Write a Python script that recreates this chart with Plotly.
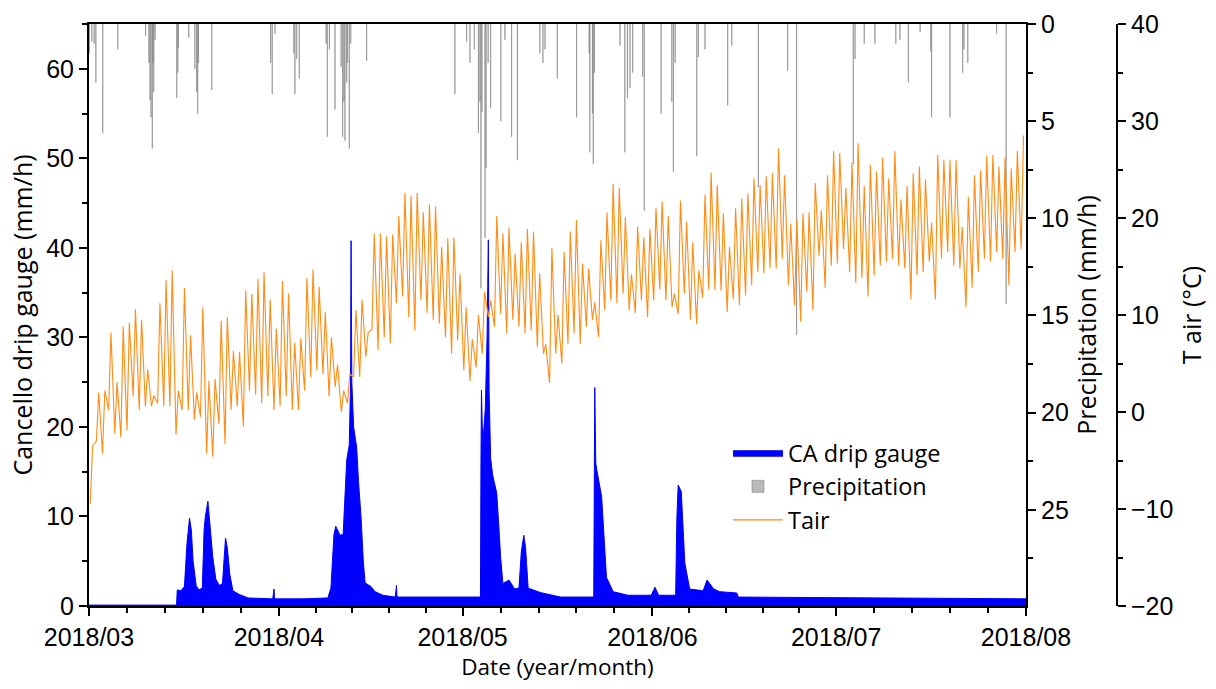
import pandas as pd
import plotly.graph_objects as go

START = pd.Timestamp("2018-03-01")
END = pd.Timestamp("2018-08-01")

# ---- Cancello drip gauge (mm/h): hours since 2018-03-01 00:00 and rate
drip_hour = [0, 343, 346, 360, 374, 384, 394, 401, 408, 420, 430, 444, 451, 456, 466, 475,
             485, 497, 511, 523, 535, 542, 552, 564, 588, 624, 720, 725, 727, 840, 936, 948,
             960, 967, 984, 996, 1003, 1010, 1020, 1025, 1027, 1030, 1037, 1049, 1056, 1066,
             1075, 1082, 1092, 1104, 1121, 1152, 1200, 1205, 1207, 1320, 1440, 1534, 1536,
             1538, 1543, 1553, 1560, 1565, 1568, 1574, 1582, 1598, 1608, 1613, 1622, 1646,
             1668, 1685, 1694, 1704, 1711, 1721, 1769, 1848, 1978, 1980, 1982, 1986, 1990,
             2009, 2018, 2028, 2054, 2112, 2203, 2218, 2232, 2299, 2304, 2309, 2321, 2328,
             2335, 2354, 2407, 2422, 2448, 2472, 2539, 2544, 2880, 3360, 3672]
drip_rate = [0.1, 0.1, 1.8, 1.7, 2.2, 7.0, 9.8, 8.5, 5.0, 2.3, 1.8, 2.0, 8.5, 10.0, 11.7, 9.0,
             5.5, 3.0, 2.3, 2.5, 7.6, 6.5, 3.5, 1.7, 1.3, 0.9, 0.8, 1.9, 0.8, 0.8, 0.9, 2.0,
             8.0, 8.9, 7.9, 8.0, 13.0, 16.3, 18.0, 25.0, 40.8, 25.0, 20.0, 17.7, 14.0, 10.0,
             5.0, 2.6, 2.4, 2.2, 1.6, 1.2, 1.0, 2.3, 1.0, 1.0, 1.0, 1.0, 16.0,
             24.1, 18.0, 22.0, 30.0, 40.9, 24.0, 16.5, 14.6, 12.6, 8.0, 5.5, 2.5, 2.9,
             1.9, 2.0, 6.0, 7.9, 6.5, 2.0, 1.5, 1.0, 1.0, 15.0, 24.4, 16.0, 15.2,
             12.2, 8.5, 3.2, 1.6, 1.2, 1.2, 2.1, 1.2, 1.2, 10.0, 13.5, 12.8, 8.0,
             4.8, 1.9, 1.7, 2.9, 1.9, 1.6, 1.45, 1.0, 0.95, 0.9, 0.8]

# ---- Precipitation (mm/h): hours since 2018-03-01 00:00 and hourly total
precip_hour = [1, 11, 20, 27, 54, 113, 222, 235, 239, 243, 248, 251, 254, 259, 344, 348, 350,
               391, 415, 422, 426, 429, 481, 712, 718, 729, 803, 807, 814, 824, 929, 934, 942,
               964, 988, 994, 999, 1003, 1010, 1013, 1020, 1026, 1088, 1434, 1480, 1493, 1510,
               1526, 1532, 1536, 1540, 1552, 1556, 1564, 1574, 1614, 1630, 1656, 1679, 1767,
               1779, 1787, 1835, 1911, 1960, 1963, 1973, 1976, 1981, 2081, 2100, 2110, 2120,
               2131, 2170, 2176, 2242, 2284, 2290, 2297, 2382, 2388, 2414, 2503, 2519, 2623,
               2738, 2773, 2995, 3002, 3038, 3080, 3162, 3178, 3211, 3257, 3299, 3302, 3374,
               3424, 3429, 3444, 3557, 3594]
precip_mm = [1.5, 0.9, 1.0, 3.0, 5.6, 1.3, 0.6, 2.0, 3.9, 4.8, 6.4, 2.0, 3.5, 0.8, 3.8, 2.5, 1.2,
             0.7, 2.3, 3.5, 4.6, 2.0, 3.4, 2.0, 3.6, 0.5, 1.5, 3.6, 1.8, 2.8, 1.0, 5.8, 1.3,
             4.4, 2.2, 5.8, 4.0, 6.0, 3.0, 2.0, 6.4, 1.0, 1.9, 3.6, 0.9, 2.0, 1.3,
             5.6, 4.0, 13.6, 4.5, 11.0, 7.4, 2.0, 4.3, 5.0, 0.8, 5.8, 7.0, 1.5,
             2.0, 1.3, 2.8, 4.8, 1.5, 6.6, 4.6, 7.2, 2.5, 1.1, 6.6, 3.8, 3.3,
             2.5, 2.7, 9.6, 4.6, 4.0, 7.6, 2.0, 6.8, 1.7, 1.3, 4.2, 1.1, 8.4,
             2.4, 16.0, 7.2, 1.8, 1.0, 1.0, 1.0, 0.8, 3.0, 0.4, 1.4, 4.8, 4.8,
             2.5, 1.3, 2.0, 0.5, 14.4]

# ---- Air temperature (°C): daily minimum (early morning) and maximum (afternoon)
tair_min = [-9.5, -3.0, -4.3, 0.2, -2.2, -2.6, -1.9, 1.6, 0.2, 0.6, 0.6, 0.9, 0.6, 0.6, -2.3,
            0.2, 0.2, -0.8, -0.5, -4.3, -4.6, -1.2, -3.3, 0.2, 0.6, -1.5, 2.2, 1.8, 0.9, 1.6,
            0.2, 0.6, 1.6, 0.2, 0.2, 2.2, 3.6, 4.3, 3.9, 1.6, 2.6, 0.0, 0.9, 3.6, 3.6, 5.7,
            8.5, 6.4, 7.7, 7.1, 11.2, 11.9, 9.8, 8.4, 11.5, 10.2, 9.5, 9.1, 7.7, 6.0, 7.4,
            4.3, 3.2, 4.6, 6.0, 9.8, 8.8, 10.1, 8.1, 9.5, 8.8, 8.1, 8.4, 6.7, 6.0, 3.0, 6.0,
            5.0, 7.0, 8.1, 7.0, 8.8, 9.5, 7.7, 10.5, 11.5, 11.2, 12.2, 10.5, 10.2, 11.5, 9.8,
            11.5, 12.6, 11.5, 10.8, 10.1, 12.2, 9.5, 9.1, 11.8, 12.6, 12.6, 12.5, 10.3, 11.6,
            11.0, 12.0, 13.1, 14.4, 14.3, 14.8, 14.8, 15.8, 13.1, 11.0, 9.3, 12.4, 10.5, 16.1,
            12.8, 15.1, 15.3, 16.8, 14.4, 13.3, 13.8, 11.9, 14.1, 15.1, 15.5, 15.8, 15.1,
            14.8, 11.6, 14.1, 14.4, 15.5, 11.6, 15.8, 16.5, 15.1, 14.8, 10.8, 12.8, 14.4,
            15.8, 15.5, 16.5, 15.8, 13.1, 16.5, 16.8]
tair_max = [-3.5, 2.0, 2.2, 8.2, 3.1, 8.8, 9.2, 10.6, 9.5, 4.4, 1.7, 11.2, 13.6, 14.6, 2.2,
            12.8, 7.9, 2.0, 10.8, 3.2, 3.4, 9.4, 9.8, 6.3, 6.2, 12.5, 12.2, 13.7, 14.4, 11.6,
            8.6, 13.5, 12.2, 7.1, 7.6, 13.8, 14.7, 12.9, 10.3, 7.7, 4.9, 2.2, 3.9, 10.5, 11.6,
            8.2, 18.4, 18.4, 18.1, 18.3, 20.2, 22.6, 22.3, 22.6, 20.6, 21.4, 21.2, 17.0, 17.9,
            18.0, 14.2, 10.8, 7.5, 10.0, 12.4, 11.5, 20.2, 18.4, 19.0, 16.3, 17.5, 18.9, 18.6,
            14.3, 7.0, 16.9, 10.0, 16.5, 18.6, 19.8, 15.3, 14.8, 11.3, 17.7, 20.6, 23.5, 23.1,
            20.1, 14.2, 19.1, 18.0, 18.9, 21.0, 21.7, 20.2, 12.2, 21.8, 19.6, 17.5, 14.6,
            22.4, 24.7, 23.4, 20.5, 17.0, 21.0, 22.0, 22.5, 24.1, 23.4, 24.3, 24.6, 27.2,
            24.4, 19.4, 19.9, 20.5, 20.6, 23.6, 20.8, 24.4, 26.9, 26.7, 23.1, 25.7, 27.7,
            23.3, 25.5, 24.8, 26.2, 24.1, 26.9, 21.9, 23.3, 24.6, 25.3, 24.0, 19.5, 26.5,
            26.0, 26.0, 26.0, 19.1, 22.2, 24.4, 24.9, 26.4, 26.5, 25.3, 26.2, 25.1, 26.9, 28.5]

month_ticks = ["2018-03-01", "2018-04-01", "2018-05-01", "2018-06-01", "2018-07-01", "2018-08-01"]
month_labels = ["2018/03", "2018/04", "2018/05", "2018/06", "2018/07", "2018/08"]


def at_hours(hours):
    return [START + pd.Timedelta(hours=h) for h in hours]


drip_t = at_hours(drip_hour)
precip_t = at_hours(precip_hour)

tair_t, tair_v = [], []
for d, (lo, hi) in enumerate(zip(tair_min, tair_max)):
    day = START + pd.Timedelta(days=d)
    tair_t += [day + pd.Timedelta(hours=5), day + pd.Timedelta(hours=14)]
    tair_v += [lo, hi]

# minor ticks: four between consecutive month starts
month_ts = [pd.Timestamp(m) for m in month_ticks]
minor_vals = []
for a, b in zip(month_ts[:-1], month_ts[1:]):
    step = (b - a) / 5
    minor_vals += [a + step * k for k in range(1, 5)]

TICK_FONT = dict(family="Liberation Sans, Arial, sans-serif", size=25, color="black")
X_TITLE_FONT = dict(family="Open Sans, sans-serif", size=22.5, color="black")
Y_TITLE_FONT = dict(family="Open Sans, sans-serif", size=25, color="black")

fig = go.Figure()

fig.add_trace(go.Scatter(
    x=drip_t, y=drip_rate, name="CA drip gauge", mode="lines",
    line=dict(color="#0000FF", width=1), fill="tozeroy", fillcolor="#0000FF",
    yaxis="y", legendrank=1,
))

fig.add_trace(go.Bar(
    x=precip_t, y=precip_mm, name="Precipitation", width=3600000,
    marker=dict(color="rgba(128,128,128,0.55)", line=dict(color="rgba(128,128,128,0.55)", width=1)),
    yaxis="y2", legendrank=2,
))

fig.add_trace(go.Scatter(
    x=tair_t, y=tair_v, name="Tair", mode="lines",
    line=dict(color="rgb(255,140,20)", width=1.1),
    yaxis="y3", legendrank=3,
))

axis_common = dict(
    showline=True, linewidth=2, linecolor="black", showgrid=False, zeroline=False,
    ticks="outside", ticklen=8, tickwidth=2, tickcolor="black", tickfont=TICK_FONT,
    automargin=False,
)

PLOT_W = 1216 - 89 - 20

fig.update_layout(
    width=1216, height=689, autosize=False,
    margin=dict(l=89, r=20, t=24, b=83),
    paper_bgcolor="white", plot_bgcolor="white",
    showlegend=True,
    legend=dict(
        x=(728 - 89) / PLOT_W, y=(606 - 431) / 582, xanchor="left", yanchor="top",
        font=dict(family="Open Sans, sans-serif", size=23.5, color="black"),
        bgcolor="rgba(0,0,0,0)", tracegroupgap=0, itemwidth=50,
    ),
    xaxis=dict(
        axis_common, type="date", domain=[0, (1026 - 89) / PLOT_W],
        range=[START, END], mirror=True,
        tickmode="array", tickvals=month_ticks, ticktext=month_labels,
        minor=dict(tickmode="array", tickvals=minor_vals, ticks="outside",
                   ticklen=5, tickwidth=1.5, tickcolor="black"),
        title=dict(text="Date (year/month)", font=X_TITLE_FONT, standoff=8),
    ),
    yaxis=dict(
        axis_common, range=[0, 65], tickmode="array", tickvals=[0, 10, 20, 30, 40, 50, 60],
        minor=dict(tickmode="array", tickvals=[5, 15, 25, 35, 45, 55, 65], ticks="outside",
                   ticklen=5, tickwidth=1.5, tickcolor="black"),
        title=dict(text="Cancello drip gauge (mm/h)", font=Y_TITLE_FONT, standoff=6),
    ),
    yaxis2=dict(
        axis_common, overlaying="y", side="right", anchor="x", range=[29.95, 0],
        tickmode="array", tickvals=[0, 5, 10, 15, 20, 25],
        minor=dict(tickmode="array", tickvals=[2.5, 7.5, 12.5, 17.5, 22.5, 27.5],
                   ticks="outside", ticklen=5, tickwidth=1.5, tickcolor="black"),
        title=dict(text="Precipitation (mm/h)", font=Y_TITLE_FONT, standoff=8),
    ),
    yaxis3=dict(
        axis_common, overlaying="y", side="right", anchor="free",
        position=(1117 - 89) / PLOT_W,
        range=[-20, 40], tickmode="array", tickvals=[-20, -10, 0, 10, 20, 30, 40],
        minor=dict(tickmode="array", tickvals=[-15, -5, 5, 15, 25, 35],
                   ticks="outside", ticklen=5, tickwidth=1.5, tickcolor="black"),
        title=dict(text="T air (°C)", font=Y_TITLE_FONT, standoff=10),
    ),
)

fig.write_html("out.html")
